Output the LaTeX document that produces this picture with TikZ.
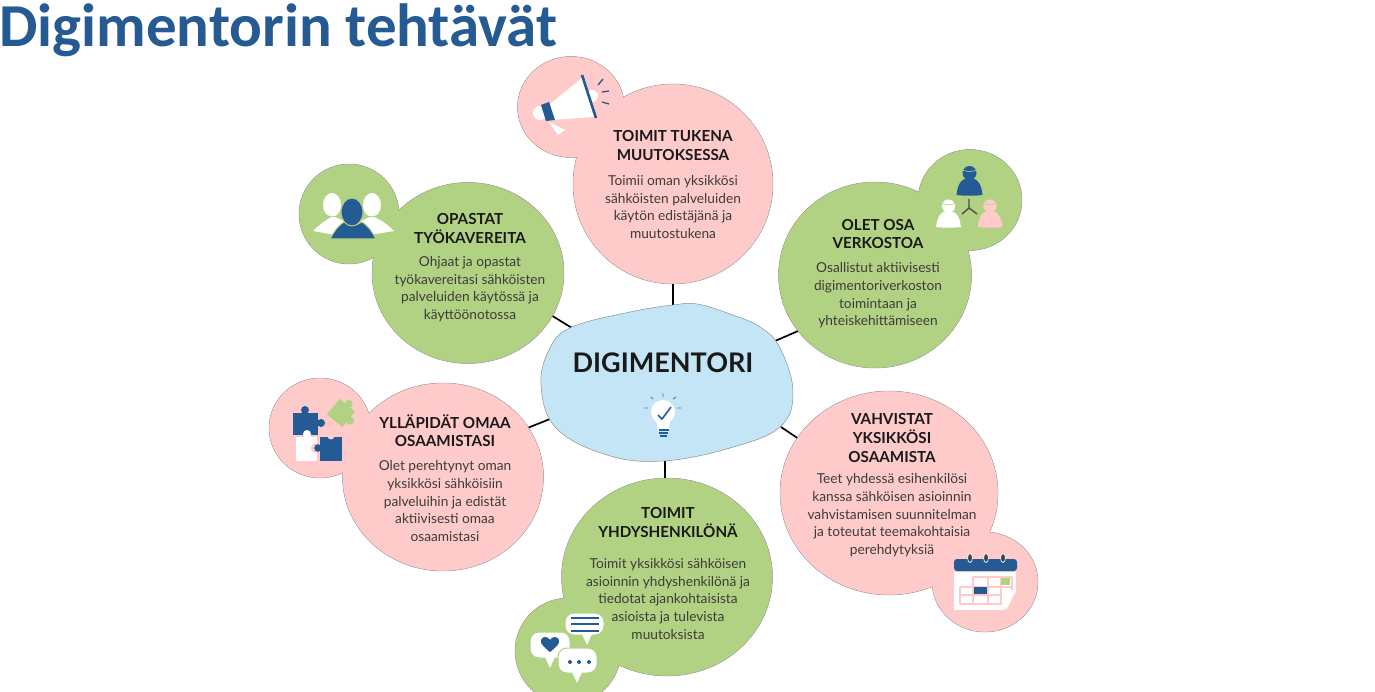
\documentclass[tikz,border=0pt]{standalone}
\usepackage{fontspec}
\usepackage{xcolor}
\usepackage{tikz}
\usetikzlibrary{positioning,shapes.geometric}
\setmainfont{Lato}
\newfontfamily\titlefont{Carlito}
\definecolor{DMPink}{HTML}{FFCACA}
\definecolor{DMGreen}{HTML}{B2D283}
\definecolor{DMSky}{HTML}{C3E5F5}
\definecolor{DMBlue}{HTML}{245B94}
\definecolor{DMTitle}{HTML}{255A92}
\definecolor{DMEdge}{HTML}{909090}
\definecolor{DMBody}{HTML}{3C3C3C}
\newcommand{\headtxt}[1]{{\bfseries\fontsize{15.2}{17.7}\selectfont\color{black!90}#1}}
\newcommand{\iconperson}[4]{%
 \begin{scope}[shift={(#1,#2)},scale=#3]
 \fill[#4] (-13,0) .. controls (-12,-11) and (-8,-15) .. (-5,-16) -- (5,-16) .. controls (8,-15) and (12,-11) .. (13,0) .. controls (5,1) and (-5,1) .. (-13,0) -- cycle;
 \fill[#4] (0,-22) circle (7);
 \draw[DMGreen,line width=.6pt] (-7,-25) .. controls (-3,-23) and (3,-23) .. (7,-25);
 \end{scope}}
\newcommand{\iconbubble}[6]{%
 \fill[white,draw=DMGreen,line width=1pt,rounded corners=9pt] (#1,#2) rectangle (#3,#4);
 \fill[white] (#5-5,#4-1) -- (#5+5,#4-1) -- (#6,#4+10) -- cycle;}
\begin{document}
\begin{tikzpicture}[x=1pt,y=-1pt,
 disc/.style={ellipse,draw=DMEdge,line width=.5pt,inner sep=0pt},
 spoke/.style={draw=black,line width=1.7pt},
 txt/.style={align=center,text=DMBody,font=\fontsize{13.7}{17.7}\selectfont}]
\useasboundingbox (0,0) rectangle (1375,692);
\node[anchor=base west,inner sep=0pt,text=DMTitle,font=\titlefont\bfseries\fontsize{61}{61}\selectfont] (title) at (-1,47) {Digimentorin tehtävät};
% discs first with edges, then the fills again so that each pair reads as one shape
\foreach \name/\cx/\cy/\w/\h/\col in {
 tukena/673/184/200/200/DMPink,tukenaIcon/571/107/107/101/DMPink,
 verkosto/875/275/193/186/DMGreen,verkostoIcon/970/200/104/101/DMGreen,
 opastat/468/273/192/181/DMGreen,opastatIcon/349/214/100/100/DMGreen,
 yllapito/443/477/201/188/DMPink,yllapitoIcon/320/428/102/100/DMPink,
 yhdys/667/577/211/198/DMGreen,yhdysIcon/568/651/106/106/DMGreen,
 vahvistus/889/493/218/204/DMPink,vahvistusIcon/985/582/106/100/DMPink}
 {\node[disc,fill=\col,minimum width=\w pt,minimum height=\h pt] (\name) at (\cx,\cy) {};}
\foreach \name/\cx/\cy/\w/\h/\col in {
 tukena/673/184/200/200/DMPink,tukenaIcon/571/107/107/101/DMPink,
 verkosto/875/275/193/186/DMGreen,verkostoIcon/970/200/104/101/DMGreen,
 opastat/468/273/192/181/DMGreen,opastatIcon/349/214/100/100/DMGreen,
 yllapito/443/477/201/188/DMPink,yllapitoIcon/320/428/102/100/DMPink,
 yhdys/667/577/211/198/DMGreen,yhdysIcon/568/651/106/106/DMGreen,
 vahvistus/889/493/218/204/DMPink,vahvistusIcon/985/582/106/100/DMPink}
 {\fill[\col] (\cx,\cy) ellipse [x radius=\w/2-.4,y radius=\h/2-.4];}
\coordinate (hubN) at (673,306);
\coordinate (hubNE) at (775,341);
\coordinate (hubSE) at (781,427);
\coordinate (hubS) at (665,461);
\coordinate (hubSW) at (550,419);
\coordinate (hubNW) at (572,328);
\draw[spoke] (tukena.south) -- (hubN);
\draw[spoke] (verkosto.216) -- (hubNE);
\draw[spoke] (vahvistus.149) -- (hubSE);
\draw[spoke] (hubS |- yhdys.north) -- (hubS);
\draw[spoke] (yllapito.30) -- (hubSW);
\draw[spoke] (opastat.333) -- (hubNW);
\draw[DMEdge,fill=DMSky,line width=.5pt] plot[smooth cycle,tension=.65] coordinates {(673,305) (697,304) (730,314) (760,327) (780,348) (793,392) (780,427) (730,448) (663,461) (607,455) (556,428) (541,385) (550,348) (572,327) (630,312)};
\node[font=\bfseries\fontsize{27}{30}\selectfont,text=black!90] (hub) at (663,363) {DIGIMENTORI};
\node[txt] (tukenaText) at (673,184.5) {\headtxt{TOIMIT TUKENA}\\[1.2pt]\headtxt{MUUTOKSESSA}\\[7.5pt]Toimii oman yksikkösi\\sähköisten palveluiden\\käytön edistäjänä ja\\muutostukena};
\node[txt] (verkostoText) at (878,273.5) {\headtxt{OLET OSA}\\[1.2pt]\headtxt{VERKOSTOA}\\[6pt]Osallistut aktiivisesti\\digimentoriverkoston\\toimintaan ja\\yhteiskehittämiseen};
\node[txt] (opastatText) at (470,267.5) {\headtxt{OPASTAT}\\[1.2pt]\headtxt{TYÖKAVEREITA}\\[5.5pt]Ohjaat ja opastat\\työkavereitasi sähköisten\\palveluiden käytössä ja\\käyttöönotossa};
\node[txt] (yllapitoText) at (445,478) {\headtxt{YLLÄPIDÄT OMAA}\\[1.2pt]\headtxt{OSAAMISTASI}\\[6pt]Olet perehtynyt oman\\yksikkösi sähköisiin\\palveluihin ja edistät\\aktiivisesti omaa\\osaamistasi};
\node[txt] (yhdysText) at (668,573.5) {\headtxt{TOIMIT}\\[1.2pt]\headtxt{YHDYSHENKILÖNÄ}\\[13pt]Toimit yksikkösi sähköisen\\asioinnin yhdyshenkilönä ja\\tiedotat ajankohtaisista\\asioista ja tulevista\\muutoksista};
\node[txt] (vahvistusText) at (892,485) {\headtxt{VAHVISTAT}\\[1.2pt]\headtxt{YKSIKKÖSI}\\[1.2pt]\headtxt{OSAAMISTA}\\[4pt]Teet yhdessä esihenkilösi\\kanssa sähköisen asioinnin\\vahvistamisen suunnitelman\\ja toteutat teemakohtaisia\\perehdytyksiä};
% megaphone
\fill[white] (540,113) circle (7);
\fill[white] (592,96) circle (6);
\fill[white] (550,104) -- (582,78) -- (594,117) -- (553,120) -- cycle;
\fill[white] (549,122) -- (565,130) -- (558,135) -- cycle;
\fill[DMBlue] (541,105) -- (549,102) -- (555,120) -- (546,121) -- cycle;
\draw[DMBlue,line width=2.6pt] (582,75) -- (596,118);
\draw[DMBlue,line width=1.3pt] (598,85) -- (603,79) (602,92) -- (609,91) (602,102) -- (609,104);
% people of the network
\iconperson{969.5}{195}{1}{DMBlue}
\iconperson{948.5}{227}{.95}{white}
\iconperson{990}{227}{.95}{DMPink}
\draw[black!70,line width=1.4pt] (969,199) -- (969,208) -- (962,214) (969,208) -- (977,214);
% colleagues
\fill[white] (332,205) ellipse [x radius=9,y radius=12];
\fill[white] (372,205) ellipse [x radius=9,y radius=12];
\fill[white] (313,231) .. controls (320,224) and (326,220) .. (333,216) -- (352,225) -- (352,238) -- cycle;
\fill[white] (394,231) .. controls (387,224) and (381,220) .. (372,216) -- (352,225) -- (352,238) -- cycle;
\draw[DMGreen,line width=.8pt] (322,212) .. controls (328,218) and (336,218) .. (342,214) (362,214) .. controls (368,218) and (376,218) .. (382,212);
\fill[DMBlue,draw=DMGreen,line width=1pt] (330,239) .. controls (335,230) and (339,225) .. (344,222) .. controls (350,226) and (356,226) .. (362,222) .. controls (367,225) and (371,230) .. (376,239) -- cycle;
\fill[DMBlue,draw=DMGreen,line width=1pt] (352,212) ellipse [x radius=11,y radius=14];
% puzzle
\fill[DMBlue] (293,413) rectangle (318,435);
\fill[DMBlue] (305,410) circle (4);
\fill[DMBlue] (321,423) circle (4);
\fill[white] (296,437) rectangle (317,461);
\fill[white] (307,434) circle (4);
\fill[DMPink] (316,448) circle (5);
\fill[DMBlue] (320,437) rectangle (342,461);
\fill[DMBlue] (318,448) circle (3.8);
\fill[DMPink] (331,436) circle (3.5);
\begin{scope}[shift={(341,413)},rotate=-40]
\fill[DMGreen] (-10,-10) rectangle (10,10);
\fill[DMGreen] (0,-12) circle (4);
\fill[DMGreen] (12,0) circle (4);
\end{scope}
% speech bubbles
\iconbubble{565}{613}{604}{635}{587}{587}
\draw[DMBlue,line width=1.3pt] (571,618) -- (599,618) (571,624) -- (599,624) (571,631) -- (599,631);
\iconbubble{530}{632}{570}{658}{550}{550}
\fill[DMBlue] (550,652) .. controls (544,647) and (540,644) .. (541,640) .. controls (542,636) and (548,636) .. (550,640) .. controls (552,636) and (558,636) .. (559,640) .. controls (560,644) and (556,647) .. (550,652) -- cycle;
\iconbubble{558}{648}{597}{673}{577}{577}
\foreach \dotx in {570,579,589} {\fill[DMBlue] (\dotx,662) circle (2);}
% calendar
\fill[white] (954,572) rectangle (1016,610);
\fill[DMBlue,rounded corners=3pt] (954,571) -- (954,559) -- (1017,559) -- (1017,571) -- cycle;
\draw[DMPink,line width=1.2pt] (973,577) -- (1012,577) (960,587) -- (1012,587) (960,595) -- (1002,595) (960,604) -- (1002,604) (960,587) -- (960,604) (973,577) -- (973,604) (988,577) -- (988,604) (1001,577) -- (1001,604) (1012,577) -- (1012,590);
\fill[DMGreen] (1001,578) rectangle (1010,585);
\fill[DMBlue] (974,587) rectangle (987,594);
\fill[DMPink] (1017,590) -- (1017,611) -- (1003,611) -- cycle;
\fill[white] (1016,592) -- (1006,610) -- (1004,601) .. controls (1010,602) and (1013,598) .. (1016,592) -- cycle;
\foreach \ringx in {970,986,1003} {\fill[black!75,draw=white,line width=.7pt] (\ringx,558) ellipse [x radius=2.4,y radius=4.5];}
% idea bulb
\fill[white] (663,412) circle (12);
\fill[white] (656,420) -- (670,420) -- (669,431) -- (658,431) -- cycle;
\draw[DMBlue,line width=1.1pt] (658.5,430) -- (668.5,430) (659,433) -- (668,433) (660,436) -- (667,436);
\draw[DMBlue,line width=1.6pt] (658,415) -- (662,419) -- (671,407);
\draw[DMBlue!80,line width=.9pt] (663,393) -- (663,397) (651,397) -- (653,399) (676,397) -- (673,399) (644,408) -- (648,408) (677,408) -- (681,408);
\end{tikzpicture}
\end{document}
